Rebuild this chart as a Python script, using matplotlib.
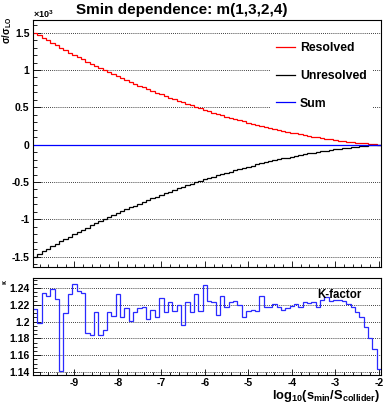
import numpy as np
import matplotlib
matplotlib.use("Agg")
import matplotlib.pyplot as plt
from matplotlib.ticker import FixedLocator, MultipleLocator, FormatStrFormatter

plt.rcParams['font.family'] = ['Liberation Sans', 'DejaVu Sans']
plt.rcParams['font.weight'] = 'bold'
plt.rcParams['axes.unicode_minus'] = False
plt.rcParams['mathtext.fontset'] = 'custom'
plt.rcParams['mathtext.rm'] = 'Liberation Sans:bold'
plt.rcParams['mathtext.it'] = 'Liberation Sans:bold'
plt.rcParams['mathtext.bf'] = 'Liberation Sans:bold'

# 80 bins in log10(smin/S), centred on -9.9 ... -2.0
x_lo, x_hi, n_bins = -9.95, -1.95, 80
x_ticks = [-9, -8, -7, -6, -5, -4, -3, -2]

# sigma/sigma_LO, in units of 10^3
resolved = [1.500, 1.465, 1.430, 1.396, 1.362, 1.329, 1.296, 1.264, 1.232, 1.201,
            1.170, 1.141, 1.112, 1.083, 1.055, 1.027, 1.000, 0.972, 0.946, 0.919,
            0.893, 0.867, 0.842, 0.817, 0.792, 0.768, 0.744, 0.721, 0.698, 0.675,
            0.652, 0.630, 0.609, 0.587, 0.566, 0.546, 0.526, 0.506, 0.486, 0.467,
            0.448, 0.430, 0.412, 0.394, 0.377, 0.360, 0.343, 0.327, 0.311, 0.296,
            0.281, 0.266, 0.252, 0.238, 0.224, 0.211, 0.198, 0.185, 0.173, 0.161,
            0.150, 0.139, 0.128, 0.118, 0.108, 0.098, 0.089, 0.080, 0.072, 0.064,
            0.056, 0.048, 0.041, 0.035, 0.028, 0.022, 0.017, 0.011, 0.007, 0.002]
unresolved = [-1.499, -1.464, -1.429, -1.395, -1.361, -1.328, -1.295, -1.263, -1.231, -1.200,
              -1.169, -1.140, -1.111, -1.082, -1.054, -1.026, -0.999, -0.971, -0.945, -0.918,
              -0.892, -0.866, -0.841, -0.816, -0.791, -0.767, -0.743, -0.720, -0.697, -0.674,
              -0.651, -0.629, -0.608, -0.586, -0.565, -0.545, -0.525, -0.505, -0.485, -0.466,
              -0.447, -0.429, -0.411, -0.393, -0.376, -0.359, -0.342, -0.326, -0.310, -0.295,
              -0.280, -0.265, -0.251, -0.237, -0.223, -0.210, -0.197, -0.184, -0.172, -0.160,
              -0.149, -0.138, -0.127, -0.117, -0.107, -0.097, -0.088, -0.079, -0.071, -0.063,
              -0.055, -0.047, -0.040, -0.034, -0.027, -0.021, -0.016, -0.010, -0.006, -0.001]

kfactor = [1.215, 1.199, 1.234, 1.230, 1.239, 1.227, 1.141, 1.210, 1.233, 1.245,
           1.236, 1.234, 1.186, 1.184, 1.212, 1.184, 1.190, 1.211, 1.207, 1.233,
           1.206, 1.216, 1.201, 1.211, 1.216, 1.218, 1.203, 1.214, 1.205, 1.228,
           1.212, 1.224, 1.213, 1.220, 1.196, 1.224, 1.212, 1.233, 1.213, 1.244,
           1.225, 1.224, 1.208, 1.230, 1.217, 1.223, 1.225, 1.220, 1.205, 1.213,
           1.214, 1.213, 1.230, 1.218, 1.217, 1.221, 1.217, 1.214, 1.216, 1.219,
           1.221, 1.217, 1.224, 1.222, 1.223, 1.218, 1.226, 1.229, 1.225, 1.226,
           1.226, 1.225, 1.221, 1.217, 1.212, 1.206, 1.194, 1.181, 1.167, 1.1435]

# sum = K-factor * sigma_LO  -> in units of 10^3
sum_vals = [k / 1000 for k in kfactor]

edges = np.linspace(x_lo, x_hi, n_bins + 1)

fig = plt.figure(figsize=(3.84, 4.07), dpi=100)
W, H = 384, 407
ax1 = fig.add_axes([33 / W, 1 - 267 / H, 348 / W, 247 / H])
ax2 = fig.add_axes([33 / W, 1 - 375 / H, 348 / W, 97 / H])

lw = 0.9
ax1.stairs(resolved, edges, baseline=None, color='#ff0000', lw=lw, label='Resolved')
ax1.stairs(unresolved, edges, baseline=None, color='#000000', lw=lw, label='Unresolved')
ax1.stairs(sum_vals, edges, baseline=None, color='#0000ff', lw=lw, label='Sum')
ax2.stairs(kfactor, edges, baseline=None, color='#2a2aff', lw=lw)

grid_kw = dict(color='black', linestyle=(0, (1, 1.5)), linewidth=0.6)

ax1.set_xlim(x_lo, x_hi)
ax1.set_ylim(-1.638, 1.67)
ax1.yaxis.set_major_locator(FixedLocator([-1.5, -1, -0.5, 0, 0.5, 1, 1.5]))
ax1.yaxis.set_minor_locator(MultipleLocator(0.1))
ax1.yaxis.set_major_formatter(FormatStrFormatter('%g'))
ax1.yaxis.grid(True, **grid_kw)

ax2.set_xlim(x_lo, x_hi)
ax2.set_ylim(1.1365, 1.252)
ax2.yaxis.set_major_locator(FixedLocator([1.14, 1.16, 1.18, 1.20, 1.22, 1.24]))
ax2.yaxis.set_minor_locator(MultipleLocator(0.005))
ax2.yaxis.set_major_formatter(FormatStrFormatter('%g'))
ax2.yaxis.grid(True, **grid_kw)

for ax in (ax1, ax2):
    ax.set_axisbelow(True)
    ax.xaxis.set_major_locator(FixedLocator(x_ticks))
    ax.xaxis.set_minor_locator(MultipleLocator(0.2))
    ax.xaxis.set_major_formatter(FormatStrFormatter('%g'))
    ax.tick_params(which='both', direction='in', top=False, right=False, labelsize=7.5, pad=2.5)
    ax.tick_params(axis='y', which='major', length=6, width=0.6)
    ax.tick_params(axis='y', which='minor', length=3, width=0.6)
    ax.tick_params(axis='x', which='major', length=4.5, width=0.6)
    ax.tick_params(axis='x', which='minor', length=2, width=0.6)
    for s in ax.spines.values():
        s.set_linewidth(0.8)

ax1.tick_params(labelbottom=False)

leg = ax1.legend(loc='upper left', bbox_to_anchor=(0.685, 0.931), fontsize=8.8,
                 frameon=True, facecolor='white', edgecolor='none', fancybox=False,
                 framealpha=1, borderpad=0.4, labelspacing=1.3, handlelength=1.56,
                 handletextpad=0.38, borderaxespad=0)

ax2.text(-3.42, 1.2317, 'K-factor', fontsize=8.3, ha='left', va='center')

fig.text(182 / W, 1 - 10 / H, 'Smin dependence: m(1,3,2,4)', fontsize=11,
         ha='center', va='center')
fig.text(33 / W, 1 - 14 / H, r'$\times10^{3}$', fontsize=6.5, ha='left', va='center')
fig.text(7 / W, 1 - 17 / H, r'$\sigma/\sigma_{LO}$', fontsize=7, rotation=90,
         ha='center', va='top')
fig.text(5 / W, 1 - 282 / H, r'$\kappa$', fontsize=5, rotation=90, ha='center', va='center')
fig.text(380 / W, 1 - 399 / H, r'$\mathrm{log_{10}(s_{min}/S_{collider})}$', fontsize=9.3,
         ha='right', va='baseline')

fig.savefig('out.png', dpi=100)
